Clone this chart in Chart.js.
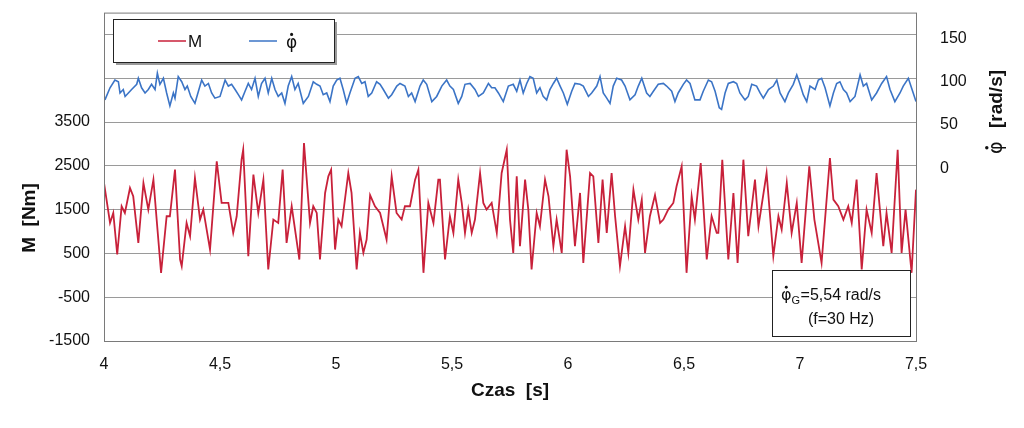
<!DOCTYPE html>
<html>
<head>
<meta charset="utf-8">
<script src="https://cdn.jsdelivr.net/npm/chart.js@4/dist/chart.umd.min.js"></script>
<style>
  html, body { margin: 0; padding: 0; background: #fff; }
  #wrap { width: 1024px; height: 428px; position: relative; overflow: hidden; }
  #inner { position: absolute; left: 0; top: -13px; width: 1024px; height: 441px; }
</style>
</head>
<body>
<div id="wrap"><div id="inner"><canvas id="c"></canvas></div></div>
<script>
// czas liczony od 4 s (przesunięcie)
const tM = [0.000,0.026,0.040,0.057,0.076,0.090,0.112,0.126,0.148,0.170,0.191,0.213,0.227,0.246,0.270,0.284,0.306,0.328,0.335,0.356,0.371,0.392,0.414,0.428,0.457,0.486,0.507,0.536,0.557,0.572,0.593,0.600,0.622,0.644,0.665,0.687,0.708,0.730,0.751,0.770,0.787,0.809,0.842,0.862,
  0.888,0.902,0.917,0.931,0.953,0.967,0.979,0.996,1.010,1.024,1.053,1.067,1.089,1.103,1.118,1.132,1.147,1.168,1.190,1.204,1.218,1.240,1.261,1.283,1.297,1.319,1.341,1.355,1.377,1.398,1.420,1.441,1.448,1.470,1.491,1.506,1.527,1.542,1.556,1.570,1.585,1.599,1.621,1.635,1.649,1.671,1.693,1.714,1.736,
  1.750,1.764,1.779,1.793,1.815,1.829,1.843,1.865,1.879,1.901,1.916,1.937,1.951,1.973,1.994,2.009,2.030,2.052,2.066,2.095,2.109,2.131,2.149,2.167,2.188,2.203,2.224,2.246,2.260,2.282,2.303,2.318,2.332,2.353,2.375,2.397,2.411,2.432,2.454,2.468,2.490,2.511,2.533,2.547,2.572,2.598,2.619,2.641,
  2.648,2.665,2.691,2.713,2.731,2.756,2.777,2.806,2.821,2.856,2.885,2.907,2.921,2.943,2.964,2.986,3.007,3.040,3.062,3.093,3.129,3.144,3.165,3.187,3.208,3.223,3.244,3.266,3.287,3.309,3.330,3.359,3.373,3.395,3.421,3.438,3.455,3.481,3.500];
const valM = [2109,1197,1425,475,1577,1425,1995,1805,741,2109,1501,2185,1273,57,1349,1349,2413,361,209,1197,893,2223,1273,1501,589,2603,1653,1653,969,1349,2641,2869,437,2299,1425,2185,133,1273,1197,2413,741,1577,361,3021,
  1197,1577,1425,361,1881,2261,2413,589,1273,1121,2337,1881,133,969,513,817,1833,1577,1425,1121,817,2261,1425,1273,1577,1577,2185,2413,57,1653,1197,2185,2185,361,1349,969,2185,1653,969,1501,969,1273,2337,1653,1501,1653,969,2337,2869,
  1273,513,2261,665,2185,1501,133,1425,1121,2185,1805,665,1273,513,2869,2261,665,1881,285,2337,2261,741,2185,969,2337,1349,209,1121,513,1957,1273,1729,513,1349,1833,1197,1273,1501,1653,2033,2489,57,1805,1273,2565,361,1349,969,
  969,2641,361,1881,285,2641,893,2185,1121,2337,437,1349,1045,2109,969,1653,285,2489,1273,285,2679,1729,1577,1273,1577,1197,2185,133,1501,969,2337,665,1425,513,2869,513,1501,57,1957];

const tPhi = [0.004,0.026,0.047,0.062,0.069,0.083,0.091,0.105,0.119,0.141,0.148,0.162,0.177,0.191,0.205,0.220,0.230,0.241,0.256,0.270,0.284,0.299,0.306,0.320,0.335,0.349,0.359,0.374,0.392,0.407,0.421,0.435,0.450,0.464,0.478,0.500,0.522,0.536,0.550,0.565,0.579,0.593,0.608,0.622,0.636,0.651,0.665,0.679,0.694,0.708,0.723,0.737,0.751,0.766,0.780,0.794,0.809,0.823,0.837,0.859,0.881,
  0.902,0.917,0.931,0.945,0.960,0.974,0.988,1.003,1.017,1.031,1.046,1.060,1.082,1.096,1.111,1.125,1.139,1.154,1.175,1.190,1.204,1.226,1.240,1.262,1.276,1.297,1.312,1.326,1.341,1.362,1.376,1.391,1.413,1.434,1.456,1.477,1.491,1.506,1.527,1.542,1.556,1.578,1.599,1.614,1.635,1.657,1.671,1.685,1.700,1.721,1.743,
  1.764,1.779,1.793,1.807,1.822,1.836,1.850,1.865,1.879,1.893,1.908,1.922,1.937,1.951,1.966,1.980,1.997,2.016,2.030,2.052,2.066,2.088,2.102,2.124,2.138,2.152,2.167,2.181,2.195,2.210,2.231,2.246,2.267,2.289,2.303,2.318,2.339,2.353,2.368,2.389,2.411,2.425,2.447,2.461,2.475,2.497,2.511,2.526,2.547,2.569,2.583,2.605,2.619,2.634,2.652,
  2.662,2.677,2.691,2.713,2.727,2.741,2.763,2.777,2.792,2.813,2.828,2.842,2.864,2.885,2.900,2.914,2.935,2.950,2.971,2.986,3.000,3.014,3.029,3.043,3.065,3.079,3.093,3.108,3.129,3.144,3.158,3.172,3.187,3.201,3.216,3.237,3.259,3.273,3.287,3.309,3.330,3.352,3.373,3.388,3.409,3.431,3.445,3.467,3.488,3.500];
const valPhi = [79,93,102,100,87,91,83,87,91,97,104,93,87,91,97,91,110,97,104,87,72,87,81,106,100,91,95,83,75,89,102,95,98,87,81,83,102,95,97,91,85,79,89,98,91,104,83,98,104,87,104,91,83,87,75,95,106,91,98,75,83,
  100,97,95,85,87,77,95,102,104,91,75,87,104,106,98,100,83,87,100,97,91,81,85,95,98,95,83,87,77,95,102,97,77,83,95,102,95,91,75,83,97,98,91,83,87,98,93,93,87,77,95,
  97,89,102,87,98,106,104,87,93,83,79,91,98,104,95,87,74,89,98,97,95,83,87,95,106,87,81,75,95,104,102,95,79,85,95,104,87,83,89,97,98,95,89,77,87,97,102,98,79,79,89,102,100,89,70,
  68,87,98,100,98,87,79,83,97,95,87,81,91,95,102,87,77,87,97,108,97,85,77,95,91,102,104,93,72,87,98,100,91,87,77,83,108,95,98,79,87,98,106,91,77,87,95,104,87,77];

const xTicks = [4, 4.5, 5, 5.5, 6, 6.5, 7, 7.5];
const mLabels = [-1500, -500, 500, 1500, 2500, 3500];
const phiLabels = [0, 50, 100, 150];

const RED = '#c8213a';
const BLUE = '#3b74c6';
const FONT = '"Liberation Sans", Arial, sans-serif';
const PHI_FONT = '"DejaVu Sans", sans-serif';
const SHIFT = 13; // przesunięcie płótna w górę

const dataM = tM.map((t, i) => ({ x: 4 + t, y: valM[i] }));
const dataPhi = tPhi.map((t, i) => ({ x: 4 + t, y: valPhi[i] }));

// φ z kropką: litera + kropka rysowana nad nią
function phiDot(ctx, x, y, size) {
  ctx.font = size + 'px ' + PHI_FONT;
  ctx.textAlign = 'left';
  ctx.textBaseline = 'alphabetic';
  ctx.fillText('\u03C6', x, y);
  const w = ctx.measureText('\u03C6').width;
  ctx.beginPath();
  ctx.arc(x + w / 2, y - size * 0.8, size * 0.09, 0, Math.PI * 2);
  ctx.fill();
  return w;
}

// ramka, legenda, opis, tytuły osi Y
const decor = {
  id: 'decor',
  afterDraw(chart) {
    const { ctx, chartArea: a } = chart;
    ctx.save();
    ctx.strokeStyle = '#7a7a7a';
    ctx.lineWidth = 1;
    ctx.strokeRect(a.left + 0.5, a.top + 0.5, a.right - a.left, a.bottom - a.top);
    ctx.translate(0, SHIFT);

    // legenda
    ctx.fillStyle = '#9a9a9a';
    ctx.fillRect(116, 22, 221, 43);
    ctx.fillStyle = '#fff';
    ctx.fillRect(113, 19, 221, 43);
    ctx.strokeStyle = '#222';
    ctx.lineWidth = 1;
    ctx.strokeRect(113.5, 19.5, 221, 43);
    ctx.lineWidth = 1.5;
    ctx.strokeStyle = RED;
    ctx.beginPath(); ctx.moveTo(158, 41); ctx.lineTo(186, 41); ctx.stroke();
    ctx.strokeStyle = BLUE;
    ctx.beginPath(); ctx.moveTo(249, 41); ctx.lineTo(277, 41); ctx.stroke();
    ctx.fillStyle = '#111';
    ctx.font = '17px ' + FONT;
    ctx.textBaseline = 'middle';
    ctx.fillText('M', 188, 42);
    phiDot(ctx, 286, 48, 17);

    // opis częstotliwości
    ctx.fillStyle = '#fff';
    ctx.fillRect(772, 270, 138, 66);
    ctx.strokeStyle = '#222';
    ctx.lineWidth = 1;
    ctx.strokeRect(772.5, 270.5, 138, 66);
    ctx.fillStyle = '#111';
    const w = phiDot(ctx, 781, 300, 16);
    ctx.font = '11px ' + FONT;
    ctx.fillText('G', 781 + w, 304);
    ctx.font = '16px ' + FONT;
    ctx.fillText('=5,54 rad/s', 790 + w, 300);
    ctx.textAlign = 'center';
    ctx.fillText('(f=30 Hz)', 841, 324);

    // tytuł lewej osi
    ctx.save();
    ctx.translate(35, 218);
    ctx.rotate(-Math.PI / 2);
    ctx.font = 'bold 19px ' + FONT;
    ctx.textAlign = 'center';
    ctx.textBaseline = 'alphabetic';
    ctx.fillText('M  [Nm]', 0, 0);
    ctx.restore();

    // tytuł prawej osi
    ctx.translate(995, 112);
    ctx.rotate(-Math.PI / 2);
    ctx.font = 'bold 19px ' + FONT;
    const tw = ctx.measureText('[rad/s]').width;
    const total = 14 + 12 + tw;
    const x0 = -total / 2;
    ctx.fillStyle = '#111';
    phiDot(ctx, x0, 7, 19);
    ctx.font = 'bold 19px ' + FONT;
    ctx.textAlign = 'left';
    ctx.fillText('[rad/s]', x0 + 26, 7);
    ctx.restore();
  }
};

new Chart(document.getElementById('c'), {
  type: 'line',
  data: {
    datasets: [
      { label: 'M', data: dataM, borderColor: RED, borderWidth: 1.8, pointRadius: 0, yAxisID: 'y', tension: 0 },
      { label: '\u03C6\u0307', data: dataPhi, borderColor: BLUE, borderWidth: 1.6, pointRadius: 0, yAxisID: 'y1', tension: 0 }
    ]
  },
  options: {
    responsive: true,
    maintainAspectRatio: false,
    animation: false,
    layout: { padding: { top: 0, left: 14, right: 0, bottom: 22 } },
    plugins: { legend: { display: false }, tooltip: { enabled: false } },
    scales: {
      x: {
        type: 'linear', min: 4, max: 7.5,
        afterBuildTicks: s => { s.ticks = xTicks.map(v => ({ value: v })); },
        afterFit: s => { s.height = 65; },
        grid: { display: false },
        border: { display: false },
        ticks: {
          color: '#111', font: { family: FONT, size: 16 }, padding: 6,
          callback: v => String(v).replace('.', ',')
        },
        title: { display: true, text: 'Czas  [s]', color: '#111', font: { family: FONT, size: 19, weight: 'bold' }, padding: { top: 0 } }
      },
      y: {
        position: 'left', min: -1500, max: 6000,
        afterBuildTicks: s => {
          const t = [];
          for (let v = -1500; v <= 6000; v += 1000) t.push({ value: v });
          s.ticks = t;
        },
        afterFit: s => { s.width = 90; },
        grid: { color: '#9a9a9a', lineWidth: 1, drawTicks: false },
        border: { display: false },
        ticks: {
          color: '#111', font: { family: FONT, size: 16 }, padding: 14,
          callback: v => mLabels.includes(v) ? String(v) : ''
        }
      },
      y1: {
        position: 'right', min: -200, max: 180,
        afterBuildTicks: s => { s.ticks = phiLabels.map(v => ({ value: v })); },
        afterFit: s => { s.width = 108; },
        grid: { display: false },
        border: { display: false },
        ticks: { color: '#111', font: { family: FONT, size: 16 }, padding: 16 }
      }
    }
  },
  plugins: [decor]
});
</script>
</body>
</html>
